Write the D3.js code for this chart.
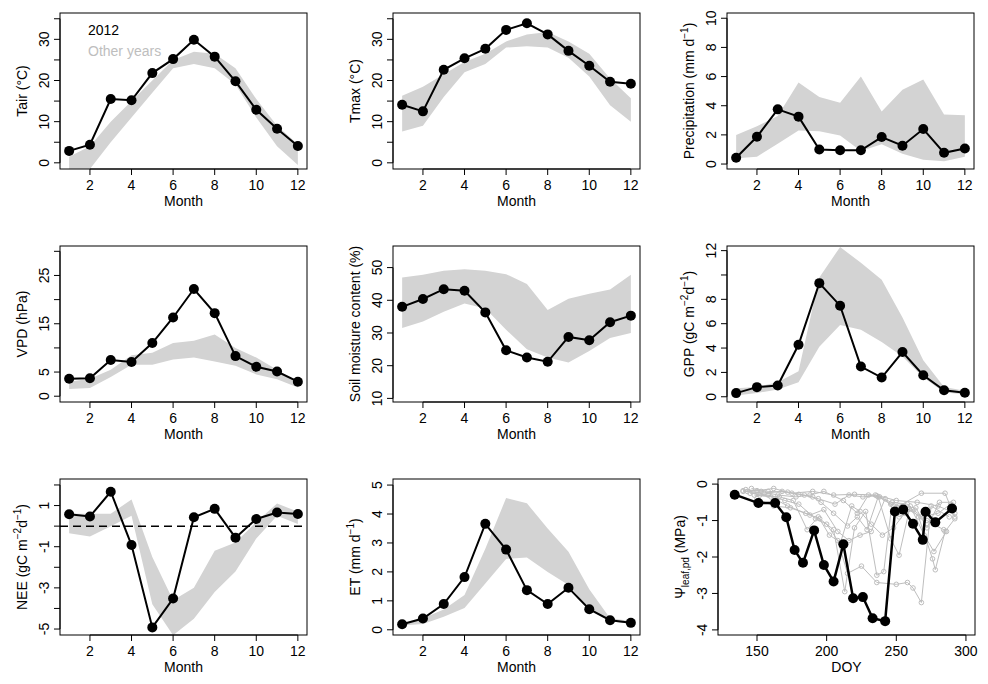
<!DOCTYPE html>
<html>
<head>
<meta charset="utf-8">
<script src="https://cdn.jsdelivr.net/npm/d3@7"></script>
<style>
  body { margin: 0; background: #fff; }
  text { font-family: "Liberation Sans", Arial, sans-serif; font-size: 14px; fill: #000; }
</style>
</head>
<body>
<svg id="chart" width="988" height="684"></svg>
<script>
var months = [1,2,3,4,5,6,7,8,9,10,11,12];

// 2012 values and the range of other years (low / high)
var tair2012 = [2.9,4.4,15.5,15.2,21.8,25.2,29.9,25.8,19.8,12.9,8.3,4.1];
var tairLow  = [-1.5,-1.5,5,11,17,23,24,23,19,11,4,-0.5];
var tairHigh = [1.5,4,10,15,20,25,27,26.5,23,15.5,9,4.5];

var tmax2012 = [14.1,12.5,22.6,25.4,27.7,32.3,33.9,31.2,27.2,23.6,19.7,19.2];
var tmaxLow  = [7.6,9,16,22,24,28,28.3,28,25.5,21,14,10];
var tmaxHigh = [16.3,18.5,21.5,24.5,26.5,29.5,31.2,31.8,29.5,26.5,20.5,15.7];

var prec2012 = [0.43,1.87,3.75,3.25,1.0,0.94,0.94,1.85,1.26,2.4,0.77,1.07];
var precLow  = [0.4,0.5,1.4,2.3,2.25,1.95,0.9,1.35,0.7,0.3,0.2,0.5];
var precHigh = [2.0,2.6,3.3,5.6,4.6,4.2,6.0,3.6,5.1,5.8,3.4,3.35];

var vpd2012 = [3.6,3.7,7.5,7.1,11.0,16.3,22.2,17.2,8.3,6.1,5.1,3.0];
var vpdLow  = [1.5,1.7,4,6.5,6.5,7.6,8,7.2,6.3,4.5,3.5,1.8];
var vpdHigh = [3,3.6,5.5,8.5,9,11,11.5,12.8,10,8,5.5,2.8];

var swc2012 = [38,40.4,43.4,42.9,36.3,24.7,22.5,21.2,28.8,27.8,33.3,35.3];
var swcLow  = [31.5,33.5,36.5,39,37.5,31,25,22.5,21,24.5,28.5,30];
var swcHigh = [47,47.8,49,49.5,49,48,45,37,40.5,42,43.3,47.8];

var gpp2012 = [0.3,0.79,0.93,4.27,9.33,7.48,2.48,1.58,3.67,1.77,0.54,0.33];
var gppLow  = [0.1,0.3,0.6,1.2,4.1,5.9,5.5,4.5,3.3,1.6,0.35,0.2];
var gppHigh = [0.7,0.8,1.2,2.1,9.8,12.3,11,9.6,6.5,3,0.8,0.5];

var nee2012 = [0.58,0.47,1.67,-0.92,-4.92,-3.52,0.43,0.84,-0.56,0.35,0.66,0.59];
var neeLow  = [-0.35,-0.5,0,0.5,-3.8,-5.3,-4.5,-3.2,-2.2,-0.6,0.5,0.1];
var neeHigh = [0.6,0.6,0.6,1.3,-1.5,-3.6,-3.0,-1.2,-0.8,0.2,1.1,0.7];

var et2012 = [0.19,0.39,0.89,1.82,3.66,2.77,1.37,0.89,1.45,0.71,0.33,0.24];
var etLow  = [0.15,0.2,0.45,0.75,1.6,2.45,2.5,2.0,1.55,0.7,0.3,0.2];
var etHigh = [0.2,0.4,0.7,1.2,2.8,4.55,4.37,3.5,2.7,1.4,0.4,0.3];

// leaf water potential: 2012 [DOY, MPa]
var psi2012 = [[134,-0.29],[151,-0.52],[163,-0.52],[171,-0.91],[177,-1.81],[183,-2.16],
  [191,-1.27],[198,-2.22],[205,-2.67],[212,-1.65],[219,-3.13],[226,-3.1],[233,-3.68],
  [242,-3.76],[249,-0.75],[255,-0.7],[262,-1.09],[269,-1.53],[271,-0.76],[278,-1.05],[290,-0.67]];
// other years
var psiOther = [
  [[140,-0.2],[150,-0.18],[162,-0.12],[175,-0.25],[190,-0.2],[205,-0.3],[220,-0.28],[235,-0.3],[250,-0.45],[265,-0.5],[280,-0.6],[292,-0.8]],
  [[142,-0.15],[153,-0.2],[165,-0.3],[178,-0.35],[188,-0.3],[198,-0.2],[212,-0.45],[222,-0.8],[230,-0.3],[238,-0.35],[252,-0.6],[268,-0.25],[285,-0.25],[292,-0.9]],
  [[145,-0.25],[158,-0.3],[170,-0.45],[180,-0.55],[192,-0.95],[200,-1.1],[208,-1.55],[215,-2.45],[225,-2.25],[236,-2.7],[250,-2.75],[258,-2.7],[262,-2.85],[268,-3.25],[275,-0.6],[288,-0.9]],
  [[148,-0.3],[160,-0.35],[172,-0.6],[185,-0.8],[195,-0.95],[205,-1.25],[213,-2.95],[220,-1.2],[228,-0.75],[236,-2.5],[241,-2.4],[247,-0.5],[258,-0.55],[266,-0.9],[276,-2.05],[278,-2.35],[285,-1.3],[292,-0.95]],
  [[140,-0.18],[155,-0.25],[168,-0.2],[180,-0.28],[190,-0.35],[196,-0.5],[205,-0.8],[215,-1.15],[222,-0.9],[229,-1.25],[237,-0.35],[246,-1.5],[252,-1.95],[260,-0.6],[270,-1.4],[277,-1.85],[286,-1.3]],
  [[143,-0.2],[152,-0.3],[166,-0.35],[176,-0.45],[186,-1.25],[194,-0.9],[202,-1.4],[210,-1.6],[218,-0.6],[224,-0.75],[232,-1.1],[240,-1.4],[248,-1.2],[256,-0.8],[264,-0.65],[272,-1.2],[281,-0.5],[291,-0.5]],
  [[146,-0.12],[158,-0.2],[172,-0.22],[184,-0.3],[194,-0.4],[206,-0.55],[216,-0.3],[226,-0.35],[236,-0.32],[246,-0.55],[256,-0.65],[268,-0.9],[280,-0.8],[289,-0.55]],
  [[150,-0.4],[162,-0.6],[174,-0.65],[188,-0.85],[198,-0.7],[208,-1.3],[216,-1.55],[224,-1.4],[232,-1.3],[242,-0.4],[252,-0.9],[262,-0.7],[272,-1.0],[284,-1.25]]
];

var monthTicks = [2,4,6,8,10,12];
var doyTicks = [150,200,250,300];

var colLeft = [60, 393, 727], boxW = 247;
var rowTop = [13, 246, 479], boxH = 156;

var panels = [
  {c:0, r:0, y:tair2012, lo:tairLow, hi:tairHigh, dom:[-1.5,36.4], ticks:d3.range(0,36,5), labels:[0,10,20,30], ylab:[["Tair (°C)"]]},
  {c:1, r:0, y:tmax2012, lo:tmaxLow, hi:tmaxHigh, dom:[-1.5,36.4], ticks:d3.range(0,36,5), labels:[0,10,20,30], ylab:[["Tmax (°C)"]]},
  {c:2, r:0, y:prec2012, lo:precLow, hi:precHigh, dom:[-0.34,10.36], ticks:[0,2,4,6,8,10], labels:[0,2,4,6,8,10], ylab:[["Precipitation (mm d"],["−1","sup"],[")"]]},
  {c:0, r:1, y:vpd2012, lo:vpdLow, hi:vpdHigh, dom:[-1.2,31.1], ticks:d3.range(0,31,5), labels:[0,5,15,25], ylab:[["VPD (hPa)"]]},
  {c:1, r:1, y:swc2012, lo:swcLow, hi:swcHigh, dom:[8.9,56.6], ticks:[10,20,30,40,50], labels:[10,20,30,40,50], ylab:[["Soil moisture content (%)"]]},
  {c:2, r:1, y:gpp2012, lo:gppLow, hi:gppHigh, dom:[-0.43,12.38], ticks:[0,2,4,6,8,10,12], labels:[0,2,4,6,8,12], ylab:[["GPP (gC m"],["−2","sup"],["d"],["−1","sup"],[")"]]},
  {c:0, r:2, y:nee2012, lo:neeLow, hi:neeHigh, dom:[-5.29,2.29], ticks:[-5,-4,-3,-2,-1,0,1,2], labels:[-5,-3,-1,1], ylab:[["NEE (gC m"],["−2","sup"],["d"],["−1","sup"],[")"]], zero:true},
  {c:1, r:2, y:et2012, lo:etLow, hi:etHigh, dom:[-0.18,5.21], ticks:[0,1,2,3,4,5], labels:[0,1,2,3,4,5], ylab:[["ET (mm d"],["−1","sup"],[")"]]}
];

var svg = d3.select("#chart");

function frame(g, w, h, x, y, xt, yticks, ylabels, xlabel, ylab) {
  g.append("rect").attr("width", w).attr("height", h)
    .attr("fill", "none").attr("stroke", "#000").attr("stroke-width", 1);
  // x axis
  var xa = g.append("g").attr("transform", "translate(0," + h + ")");
  xa.append("line").attr("x1", x(xt[0])).attr("x2", x(xt[xt.length-1])).attr("stroke", "#000");
  xt.forEach(function (t) {
    xa.append("line").attr("x1", x(t)).attr("x2", x(t)).attr("y2", 6).attr("stroke", "#000");
    xa.append("text").attr("x", x(t)).attr("y", 21).attr("text-anchor", "middle").text(t);
  });
  g.append("text").attr("x", w / 2).attr("y", h + 37).attr("text-anchor", "middle").text(xlabel);
  // y axis
  var ya = g.append("g");
  ya.append("line").attr("y1", y(yticks[0])).attr("y2", y(yticks[yticks.length-1])).attr("stroke", "#000");
  yticks.forEach(function (t) {
    ya.append("line").attr("y1", y(t)).attr("y2", y(t)).attr("x2", -6).attr("stroke", "#000");
    if (ylabels.indexOf(t) > -1) {
      ya.append("text").attr("transform", "translate(-11," + y(t) + ") rotate(-90)")
        .attr("text-anchor", "middle").text(t);
    }
  });
  var lab = g.append("text").attr("transform", "translate(-33," + (h / 2) + ") rotate(-90)")
    .attr("text-anchor", "middle");
  ylab.forEach(function (p) {
    var ts = lab.append("tspan").text(p[0]);
    if (p[1] == "sup") ts.attr("font-size", "10px").attr("dy", "-6");
    else if (p[1] == "sub") ts.attr("font-size", "10px").attr("dy", "4");
    else if (lab.selectAll("tspan").size() > 1) ts.attr("dy", p[2] || "6");
  });
  return lab;
}

panels.forEach(function (p, i) {
  var g = svg.append("g").attr("transform", "translate(" + colLeft[p.c] + "," + rowTop[p.r] + ")");
  var x = d3.scaleLinear().domain([0.56, 12.44]).range([0, boxW]);
  var y = d3.scaleLinear().domain(p.dom).range([boxH, 0]);

  var area = d3.area().x(function (d, j) { return x(months[j]); })
    .y0(function (d, j) { return y(p.lo[j]); })
    .y1(function (d, j) { return y(p.hi[j]); });
  g.append("path").datum(months).attr("d", area).attr("fill", "#d3d3d3");

  if (p.zero) {
    g.append("line").attr("x1", 0).attr("x2", boxW).attr("y1", y(0)).attr("y2", y(0))
      .attr("stroke", "#000").attr("stroke-width", 1.5).attr("stroke-dasharray", "8,5");
  }

  var line = d3.line().x(function (d, j) { return x(months[j]); }).y(function (d) { return y(d); });
  g.append("path").datum(p.y).attr("d", line).attr("fill", "none")
    .attr("stroke", "#000").attr("stroke-width", 2);
  g.selectAll("circle").data(p.y).enter().append("circle")
    .attr("cx", function (d, j) { return x(months[j]); })
    .attr("cy", function (d) { return y(d); })
    .attr("r", 5).attr("fill", "#000");

  frame(g, boxW, boxH, x, y, monthTicks, p.ticks, p.labels, "Month", p.ylab);

  if (i == 0) {
    g.append("text").attr("x", 28).attr("y", 22).text("2012");
    g.append("text").attr("x", 28).attr("y", 43).attr("fill", "#bebebe").style("fill", "#bebebe").text("Other years");
  }
});

// leaf water potential panel
(function () {
  var w = 257, h = 156;
  var g = svg.append("g").attr("transform", "translate(718," + rowTop[2] + ")");
  var x = d3.scaleLinear().domain([122, 306.5]).range([0, w]);
  var y = d3.scaleLinear().domain([-4.14, 0.14]).range([h, 0]);
  var line = d3.line().x(function (d) { return x(d[0]); }).y(function (d) { return y(d[1]); });

  psiOther.forEach(function (s) {
    g.append("path").datum(s).attr("d", line).attr("fill", "none")
      .attr("stroke", "#bebebe").attr("stroke-width", 1);
    g.append("g").selectAll("circle").data(s).enter().append("circle")
      .attr("cx", function (d) { return x(d[0]); }).attr("cy", function (d) { return y(d[1]); })
      .attr("r", 2.3).attr("fill", "none").attr("stroke", "#bebebe");
  });
  g.append("path").datum(psi2012).attr("d", line).attr("fill", "none")
    .attr("stroke", "#000").attr("stroke-width", 2.5);
  g.append("g").selectAll("circle").data(psi2012).enter().append("circle")
    .attr("cx", function (d) { return x(d[0]); }).attr("cy", function (d) { return y(d[1]); })
    .attr("r", 5).attr("fill", "#000");

  frame(g, w, h, x, y, doyTicks, [-4,-3,-2,-1,0], [-4,-3,-2,-1,0], "DOY",
    [["Ψ"], ["leaf,pd", "sub"], [" (MPa)", null, "-4"]]);
})();
</script>
</body>
</html>
